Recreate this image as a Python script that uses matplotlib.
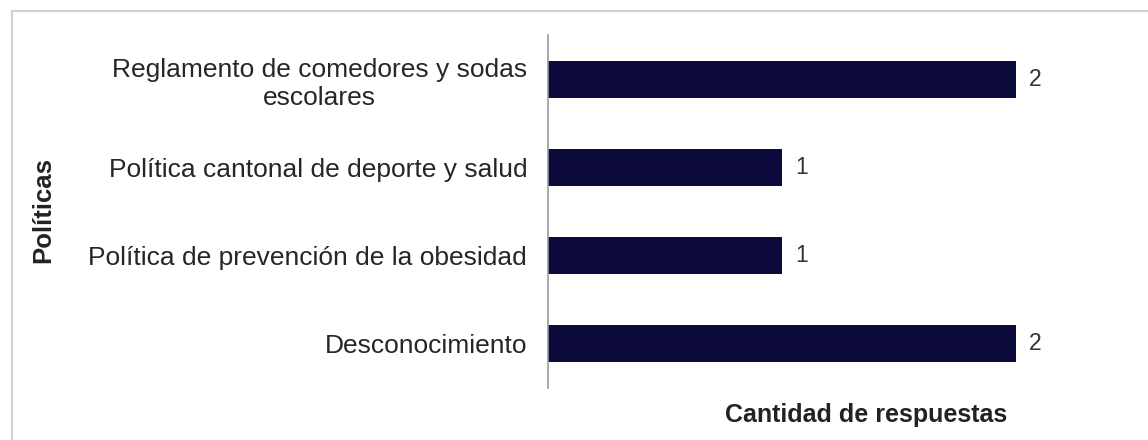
import matplotlib.pyplot as plt
from matplotlib.patches import Rectangle

plt.rcParams['font.family'] = ['Liberation Sans', 'DejaVu Sans']

politicas = [
    "Reglamento de comedores y sodas\nescolares",
    "Política cantonal de deporte y salud",
    "Política de prevención de la obesidad",
    "Desconocimiento",
]
respuestas = [2, 1, 1, 2]

W, H = 1148, 440
fig = plt.figure(figsize=(W / 100, H / 100), dpi=100, facecolor="white")

# marco exterior gris claro
fig.patches.append(Rectangle((12 / W, -0.1), 1.2, (H - 11) / H + 0.1,
                             transform=fig.transFigure, fill=False,
                             edgecolor="#d0d0d0", lw=1.5))

ax = fig.add_axes([548 / W, 1 - 388 / H, (1042 - 548) / W, (388 - 35) / H])
ax.set_facecolor("none")

pos = list(range(len(politicas)))
ax.barh(pos, respuestas, height=0.42, color="#0b0a3a")
for y, v in zip(pos, respuestas):
    ax.text(v + 0.055, y, str(v), va="center", ha="left", fontsize=16.5, color="#333333")

ax.set_ylim(len(politicas) - 0.5, -0.5)
ax.set_xlim(0, 2.11)
ax.set_yticks(pos)
ax.set_yticklabels(politicas, fontsize=19, color="#262626",
                   multialignment="center", linespacing=1.25)
ax.tick_params(axis="y", length=0, pad=15)
ax.set_xticks([])

for s in ["top", "right", "bottom"]:
    ax.spines[s].set_visible(False)
ax.spines["left"].set_color("#999999")
ax.spines["left"].set_linewidth(1.2)

fig.text(866 / W, 1 - 422 / H, "Cantidad de respuestas", ha="center", va="baseline",
         fontsize=18, fontweight="bold", color="#222222")
fig.text(43 / W, 1 - 210 / H, "Políticas", rotation=90, ha="center", va="center",
         fontsize=18.5, fontweight="bold", color="#222222")

fig.savefig("out.png", dpi=100)
